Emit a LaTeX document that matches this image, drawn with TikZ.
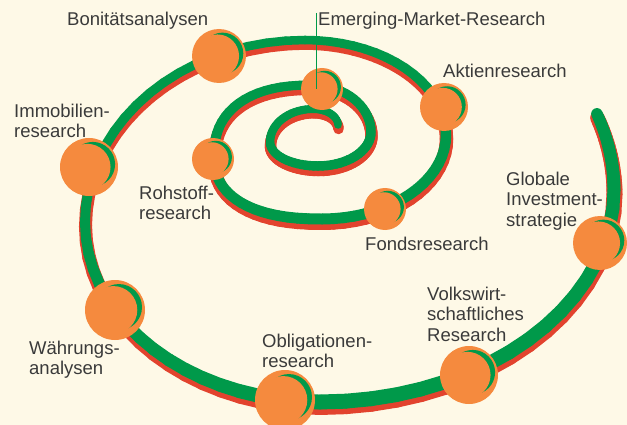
\documentclass[tikz,border=0pt]{standalone}
\usepackage{fontspec}
\setmainfont{Liberation Sans}
\definecolor{paper}{HTML}{FEF9E7}
\definecolor{spiralgreen}{HTML}{00994A}
\definecolor{spiralred}{HTML}{E2432E}
\definecolor{pearlorange}{HTML}{F58A3E}
\definecolor{labelgrey}{HTML}{3A3A3A}
\pgfdeclarelayer{spiral}
\pgfsetlayers{spiral,main}
\tikzstyle{topic} = [anchor=north west, inner sep=0pt, align=left, text=labelgrey, font=\fontsize{18.5}{20.5}\selectfont]
\tikzstyle{leader} = [draw=spiralgreen, line width=1pt]
\tikzstyle{band} = [line cap=round]
\tikzset{pearl/.style={circle, fill=pearlorange, inner sep=0pt, minimum size=2*#1pt,
  path picture={
    \fill[spiralgreen] ([xshift={0.13*#1pt}, yshift={0.095*#1pt}]path picture bounding box.center) circle ({0.77*#1pt});
    \fill[pearlorange] ([xshift={-0.055*#1pt}]path picture bounding box.center) circle ({0.798*#1pt});
  }}}

\begin{document}
\begin{tikzpicture}[x=1pt, y=-1pt]
	\useasboundingbox (0,0) rectangle (627,425);

	\node (emerging) [pearl=21] at (322,89) {};
	\node (rohstoff) [pearl=21] at (213,159) {};
	\node (fonds) [pearl=21] at (385,209) {};
	\node (aktien) [pearl=24] at (444,107) {};
	\node (bonitaet) [pearl=27] at (219,56) {};
	\node (immobilien) [pearl=29] at (89,167) {};
	\node (waehrung) [pearl=30] at (115,310) {};
	\node (obligation) [pearl=30] at (285,400) {};
	\node (volkswirt) [pearl=29] at (469,375) {};
	\node (globale) [pearl=27] at (600,243) {};
	\coordinate (emergingtop) at (316,13);

	\node (emergingtext) [topic] at (318,11.5) {Emerging-Market-Research};
	\node (bonitaettext) [topic] at (67,11.5) {Bonitätsanalysen};
	\node (aktientext) [topic] at (443,63.5) {Aktienresearch};
	\node (immobilientext) [topic] at (14,103.5) {Immobilien-\\research};
	\node (rohstofftext) [topic] at (139,185.5) {Rohstoff-\\research};
	\node (fondstext) [topic] at (365,236.5) {Fondsresearch};
	\node (globaletext) [topic] at (506,171.5) {Globale\\Investment-\\strategie};
	\node (volkswirttext) [topic] at (427,286.5) {Volkswirt-\\schaftliches\\Research};
	\node (obligationtext) [topic] at (262,333.5) {Obligationen-\\research};
	\node (waehrungtext) [topic] at (29,340.5) {Währungs-\\analysen};

	\draw [leader] (emergingtop) -- (emergingtop |- emerging.center);

	\begin{pgfonlayer}{spiral}
		\fill [paper] (0,0) rectangle (627,425);
		\foreach \col/\dx/\dy/\grow in {spiralred/0.5/4/3, spiralgreen/0/0/0} {
			\foreach \cx/\cy/\rx/\ry/\from/\sweep/\p/\wa/\wb in {
				313/125/25/16/0/90/1/7.5/8, 313/142/43/33/-90/90/1/8/8.5,
				318/142/48/24/-180/90/1/8.5/9.5, 318/132/53/34/-270/90/1/9.5/9.5,
				312/132/59/47/0/90/1/9.5/9, 312/156/98/71/-90/90/0.85/9/10,
				322/156/108/63/-180/90/0.85/10/11, 322/135/124/84/-270/90/1/11/10.5,
				305/135/141/95/0/90/1/10.5/8.5, 305/222/220/182/-90/90/1/8.5/10,
				320/222/235/180/-180/90/1/10/15, 320/190/294/212/-270/90/1/15/13,
				284/190/330/240/0/18.5/1/13/11.5} {
				\foreach \k in {0,...,17} {
					\pgfmathsetmacro\ta{\from-\sweep*\k/18}
					\pgfmathsetmacro\tb{\from-\sweep*(\k+1)/18}
					\pgfmathsetmacro\w{\wa+(\wb-\wa)*(\k+0.5)/18+\grow}
					\draw [band, draw=\col, line width=\w pt]
						({\cx+\dx+\rx*cos(\ta)*pow(abs(cos(\ta))+0.0001,\p-1)}, {\cy+\dy+\ry*sin(\ta)*pow(abs(sin(\ta))+0.0001,\p-1)}) --
						({\cx+\dx+\rx*cos(\tb)*pow(abs(cos(\tb))+0.0001,\p-1)}, {\cy+\dy+\ry*sin(\tb)*pow(abs(sin(\tb))+0.0001,\p-1)});
				}
			}
		}
	\end{pgfonlayer}
\end{tikzpicture}
\end{document}
